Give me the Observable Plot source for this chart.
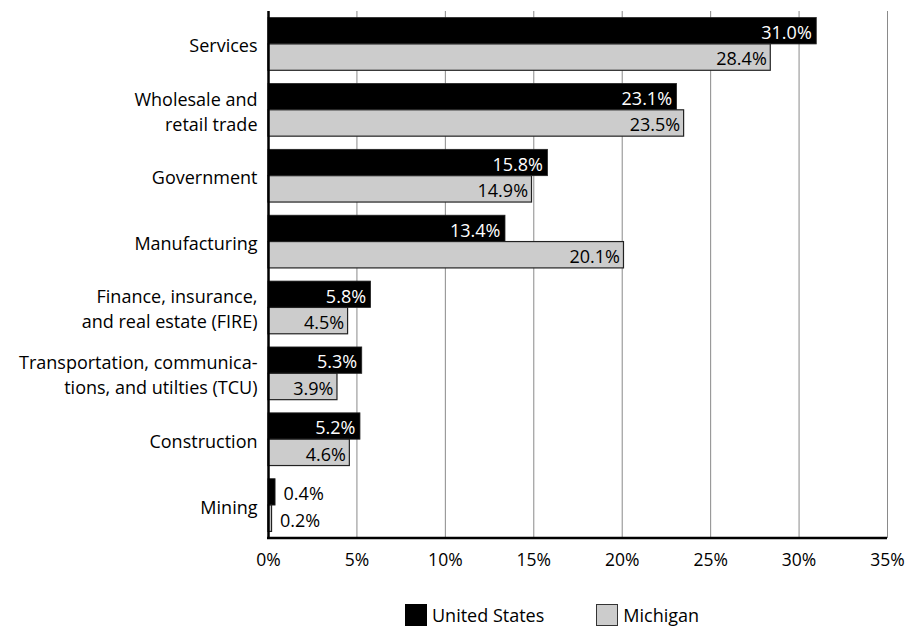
<!DOCTYPE html>
<html>
<head>
<meta charset="utf-8">
<script src="https://cdn.jsdelivr.net/npm/d3@7"></script>
<script src="https://cdn.jsdelivr.net/npm/@observablehq/plot@0.6"></script>
<style>
  body { margin: 0; background: white; font-family: "Open Sans", Lato, sans-serif; }
  #legend { display: flex; align-items: center; height: 29px; padding-left: 405px; font-size: 18px; color: black; }
  .sw { width: 22px; height: 22px; box-sizing: border-box; margin-right: 5px; }
  .item { display: flex; align-items: center; }
</style>
</head>
<body>
<div id="chart"></div>
<div id="legend">
  <div class="item" style="margin-right:52px"><div class="sw" style="background:#000"></div><span>United States</span></div>
  <div class="item"><div class="sw" style="background:#cccccc;border:1.5px solid #333"></div><span>Michigan</span></div>
</div>
<script>
const categories = [
  "Services",
  "Wholesale and\nretail trade",
  "Government",
  "Manufacturing",
  "Finance, insurance,\nand real estate (FIRE)",
  "Transportation, communica-\ntions, and utilties (TCU)",
  "Construction",
  "Mining"
];
const unitedStates = [31.0, 23.1, 15.8, 13.4, 5.8, 5.3, 5.2, 0.4];
const michigan = [28.4, 23.5, 14.9, 20.1, 4.5, 3.9, 4.6, 0.2];
const xTicks = [0, 5, 10, 15, 20, 25, 30, 35];

const rows = categories.map((c, i) => ({category: c, us: unitedStates[i], mi: michigan[i]}));
const fmt = v => v.toFixed(1) + "%";

const W = 914, H = 600, mT = 11, mB = 62, mL = 268, mR = 27;
const pInner = 0.2, pOuter = 0.1;
const step = (H - mT - mB) / (categories.length - pInner + 2 * pOuter);
const half = step * (1 - pInner) / 2;

const chart = Plot.plot({
  width: W, height: H,
  marginTop: mT, marginBottom: mB, marginLeft: mL, marginRight: mR,
  style: {fontFamily: "'Open Sans', Lato, sans-serif", fontSize: "17px", color: "black", background: "white", overflow: "visible"},
  x: {domain: [0, 35], axis: null},
  y: {domain: categories, paddingInner: pInner, paddingOuter: pOuter, round: false, axis: null},
  marks: [
    Plot.gridX(xTicks, {stroke: "#8a8a8a", strokeOpacity: 1, strokeWidth: 1}),
    Plot.barX(rows, {x: "us", y: "category", fill: "black", stroke: "#222", strokeWidth: 0.8, insetBottom: half}),
    Plot.barX(rows, {x: "mi", y: "category", fill: "#cccccc", stroke: "#222", strokeWidth: 1.2, insetTop: half}),
    Plot.text(rows.filter(d => d.us >= 2), {x: "us", y: "category", text: d => fmt(d.us), textAnchor: "end", dx: -5, dy: -half / 2 + 2, fill: "white", fontSize: 18}),
    Plot.text(rows.filter(d => d.mi >= 2), {x: "mi", y: "category", text: d => fmt(d.mi), textAnchor: "end", dx: -4, dy: half / 2 + 2, fill: "black", fontSize: 18}),
    Plot.text(rows.filter(d => d.us < 2), {x: "us", y: "category", text: d => fmt(d.us), textAnchor: "start", dx: 8, dy: -half / 2 + 2, fill: "black", fontSize: 18}),
    Plot.text(rows.filter(d => d.mi < 2), {x: "mi", y: "category", text: d => fmt(d.mi), textAnchor: "start", dx: 8, dy: half / 2 + 2, fill: "black", fontSize: 18}),
    Plot.axisY({tickSize: 0, tickPadding: 11, fontSize: 18, lineHeight: 1.39, label: null}),
    Plot.axisX(xTicks, {tickSize: 0, tickPadding: 15, fontSize: 17.5, tickFormat: d => d + "%", label: null}),
    Plot.ruleX([0], {stroke: "black", strokeWidth: 2.5}),
    (index, scales, values, dims) => {
      const y = dims.height - dims.marginBottom;
      return d3.create("svg:line")
        .attr("x1", scales.x(0) - 1).attr("x2", scales.x(35))
        .attr("y1", y).attr("y2", y)
        .attr("stroke", "black").attr("stroke-width", 2.5).node();
    }
  ]
});
document.getElementById("chart").append(chart);
</script>
</body>
</html>
